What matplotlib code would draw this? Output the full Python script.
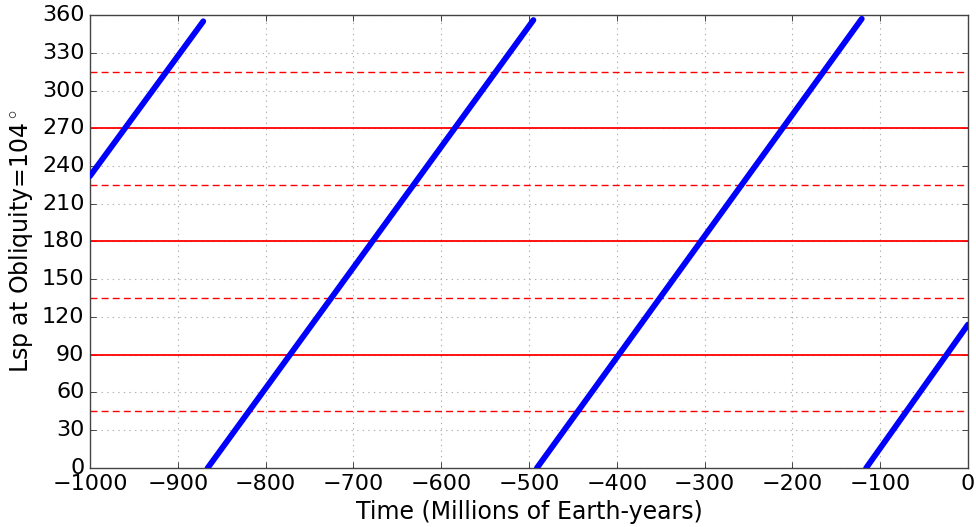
import numpy as np
import matplotlib
matplotlib.use("Agg")
import matplotlib.pyplot as plt
from matplotlib.ticker import MultipleLocator

# ---------------------- Data ----------------------
# Lsp branches (start/end of each wrap-around), Myr and degrees
seg_time = [[-1000, -871], [-866, -495], [-491, -121], [-116, 0]]
seg_lsp = [[232, 355], [0, 356], [0, 357], [0, 114]]

solid_levels = [90, 180, 270]
dashed_levels = [45, 135, 225, 315]

# ---------------------- Plot ----------------------
plt.style.use('classic')
plt.rcParams['font.size'] = 16

fig = plt.figure(figsize=(9.76, 5.27), dpi=100, facecolor='white')
ax = fig.add_axes([0.0922, 0.112, 0.8996, 0.8595])

for lev in solid_levels:
    ax.axhline(lev, color='red', lw=1.3, zorder=2)
for lev in dashed_levels:
    ax.axhline(lev, color='red', lw=1.0, ls='--', dashes=(5, 3), zorder=2)

for t, l in zip(seg_time, seg_lsp):
    ax.plot(t, l, color='blue', lw=4.2, solid_capstyle='round', zorder=3)

ax.set_xlim(-1000, 0)
ax.set_ylim(0, 360)
ax.xaxis.set_major_locator(MultipleLocator(100))
ax.yaxis.set_major_locator(MultipleLocator(30))
ax.grid(True, color='#b0b0b0', ls=':', lw=0.8)
ax.set_axisbelow(True)
ax.tick_params(labelsize=16)
for sp in ax.spines.values():
    sp.set_color('#444444')

ax.set_xlabel('Time (Millions of Earth-years)', fontsize=17)
ax.set_ylabel(r'Lsp at Obliquity=104$^\circ$', fontsize=17)

plt.savefig('out.png', dpi=100, facecolor='white')
